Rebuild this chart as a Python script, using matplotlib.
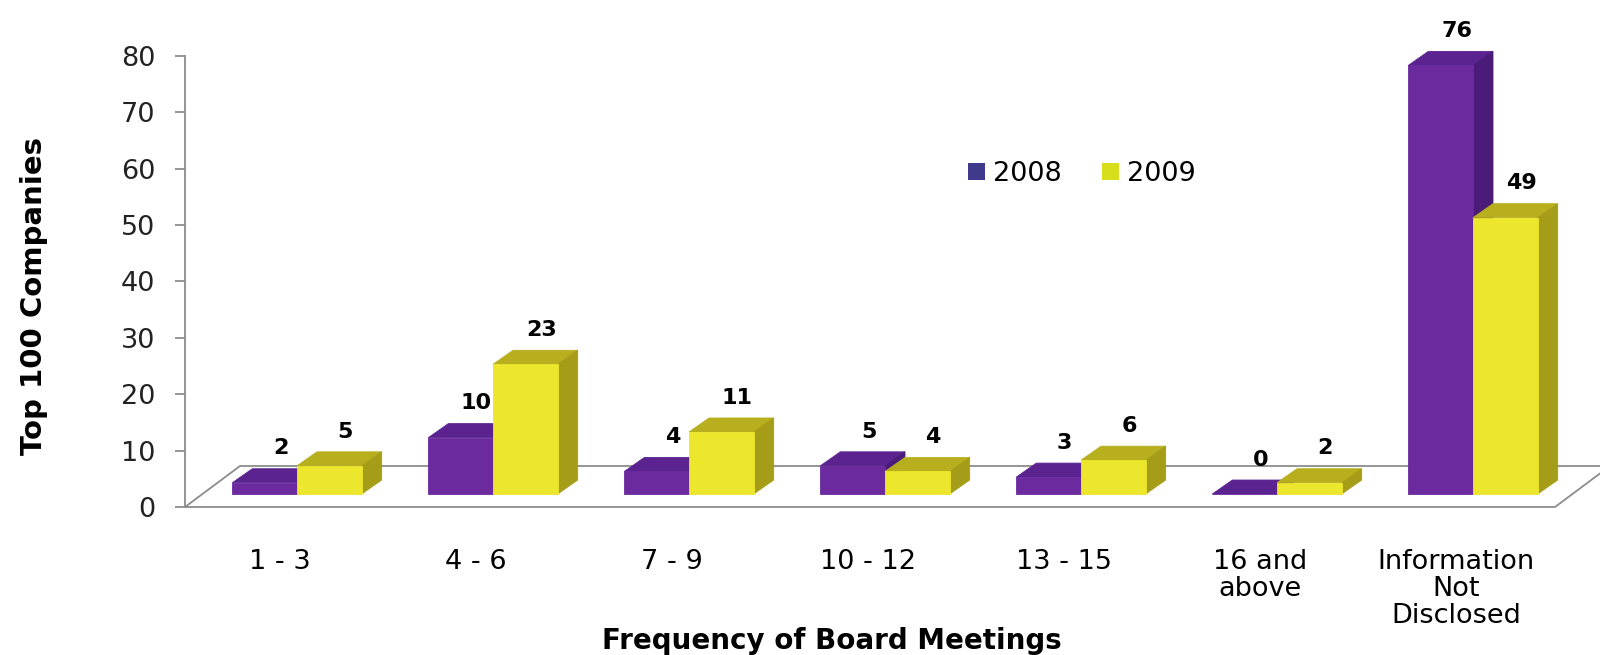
import matplotlib
matplotlib.use("Agg")
import matplotlib.pyplot as plt
from matplotlib.patches import Polygon, Patch

# data
categories = ["1 - 3", "4 - 6", "7 - 9", "10 - 12", "13 - 15", "16 and\nabove",
              "Information\nNot\nDisclosed"]
y2008 = [2, 10, 4, 5, 3, 0, 76]
y2009 = [5, 23, 11, 4, 6, 2, 49]
years = ["2008", "2009"]

# look of the fake 3d excel chart
W, H = 1600, 655
px_x = 196.0          # pixels per category
px_y = 5.64           # pixels per unit
x0_px, y0_px = 185, 507   # left axis / zero line (pixels from top-left)
bar_w = 0.33
base = 2.3            # bars sit a little behind the front edge of the floor
dx, dy = 20 / px_x, 14 / px_y          # bar depth
fdx, fdy = 55 / px_x, 41 / px_y        # floor depth
shift = 17 / px_x

front_cols = ["#6b2a9e", "#ece62c"]
top_cols = ["#5a2390", "#b8af1e"]
side_cols = ["#4a1b78", "#a59d18"]
legend_cols = ["#3f3a8c", "#d9de1c"]
grey = "#8c8c8c"

fig = plt.figure(figsize=(16, 6.55), dpi=100)
ax = fig.add_axes([x0_px / W, (H - y0_px) / H, (W - x0_px) / W, 80 * px_y / H])
xmin = -(297 - x0_px) / px_x
ax.set_xlim(xmin, xmin + (W - x0_px) / px_x)
ax.set_ylim(0, 80)

# floor
xr = (1555 - 297) / px_x
floor = Polygon([(xmin, 0), (xr, 0), (xr + fdx, fdy), (xmin + fdx, fdy)],
                closed=True, facecolor="white", edgecolor=grey, lw=1.3,
                zorder=1, clip_on=False)
ax.add_patch(floor)

def draw_bar(x, v, k):
    t = base + v
    # top and side first, front face over them
    ax.add_patch(Polygon([(x, t), (x + bar_w, t), (x + bar_w + dx, t + dy), (x + dx, t + dy)],
                         facecolor=top_cols[k], edgecolor=top_cols[k], lw=0.6,
                         zorder=3 + k, clip_on=False))
    ax.add_patch(Polygon([(x + bar_w, base), (x + bar_w + dx, base + dy),
                          (x + bar_w + dx, t + dy), (x + bar_w, t)],
                         facecolor=side_cols[k], edgecolor=side_cols[k], lw=0.6,
                         zorder=3 + k, clip_on=False))
    b = ax.bar(x, v, width=bar_w, bottom=base, align="edge",
               color=front_cols[k], edgecolor=front_cols[k], lw=0.6, zorder=3 + k)
    ax.text(x + bar_w / 2 + dx / 2 + 0.03, t + dy + 3.6, str(v), ha="center", va="center",
            fontsize=16, fontweight="bold", color="black", zorder=10)
    return b

for i in range(len(categories)):
    draw_bar(i - bar_w, y2008[i], 0)
    draw_bar(i, y2009[i], 1)

# axes styling
for s in ["top", "right", "bottom"]:
    ax.spines[s].set_visible(False)
ax.spines["left"].set_color(grey)
ax.spines["left"].set_linewidth(1.3)
ax.set_yticks(range(0, 81, 10))
ax.tick_params(axis="y", direction="out", length=7.5, width=1.3, color=grey,
               labelsize=19.5, labelcolor="#222222", pad=14)
ax.set_xticks([i - shift for i in range(len(categories))])
ax.set_xticklabels(categories, fontsize=19.5, linespacing=1.05)
ax.tick_params(axis="x", length=0, pad=30)

fig.text(832 / W, 1 - 641 / H, "Frequency of Board Meetings", ha="center", va="center",
         fontsize=20, fontweight="bold")
fig.text(34 / W, 1 - 296 / H, "Top 100 Companies", ha="center", va="center",
         rotation=90, fontsize=21, fontweight="bold")

handles = [Patch(facecolor=c, edgecolor="none") for c in legend_cols]
fig.legend(handles, years, loc="center left", bbox_to_anchor=(968 / W, 1 - 174 / H),
           ncol=2, frameon=False, fontsize=19.5, handlelength=0.62, handleheight=0.62,
           handletextpad=0.3, columnspacing=1.5, borderpad=0, borderaxespad=0)

fig.savefig("out.png", dpi=100, facecolor="white")
